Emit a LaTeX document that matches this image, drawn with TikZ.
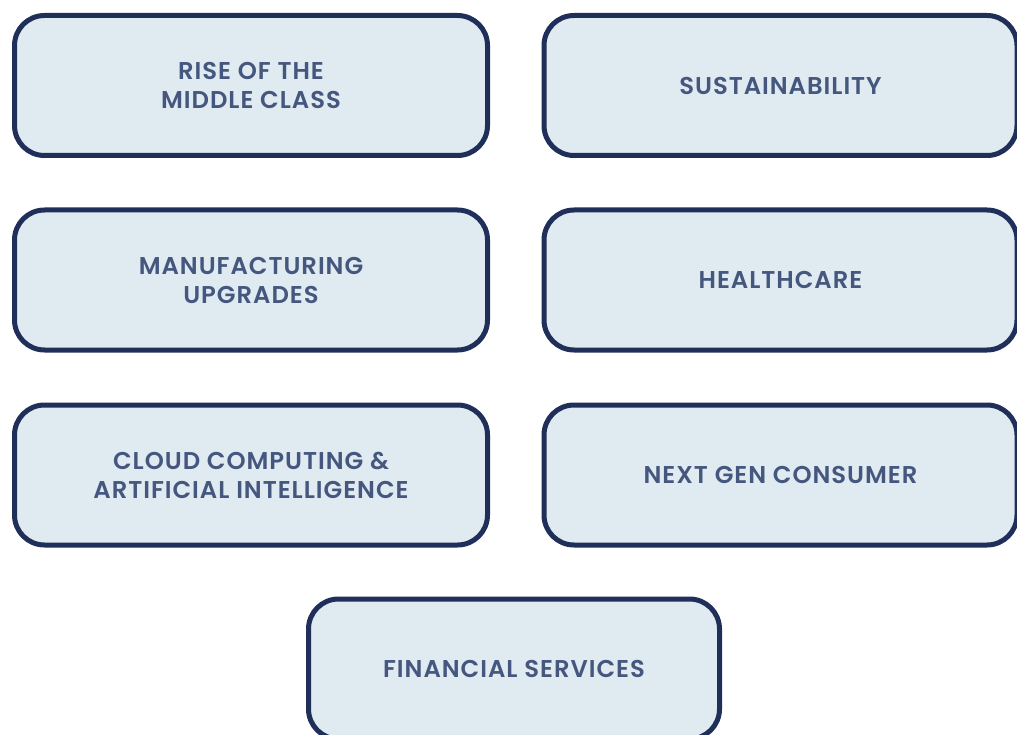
\documentclass[tikz,border=0pt]{standalone}
\usepackage{fontspec}
\usepackage{xcolor}
\newfontfamily\boxfont{Poppins}[UprightFont={* SemiBold}, LetterSpace=4]
\definecolor{boxline}{HTML}{1F2F5A}
\definecolor{boxfill}{HTML}{DFEAF1}
\definecolor{boxtext}{HTML}{46577F}
\tikzset{
  trend/.style={draw=boxline, fill=boxfill, line width=5pt, rounded corners=30pt,
    minimum width=473pt, minimum height=140pt, align=center, text=boxtext,
    font=\boxfont\fontsize{24.3}{29}\selectfont}
}

\begin{document}
\begin{tikzpicture}[x=1pt, y=-1pt]
\useasboundingbox (0,0) rectangle (1017,735);
\clip (0,0) rectangle (1017,735);

\node[trend] (middle) at (251, 85.5) {RISE OF THE\\MIDDLE CLASS};
\node[trend] (sustain) at (780.5, 85.5) {SUSTAINABILITY};
\node[trend] (manuf) at (251, 280) {MANUFACTURING\\UPGRADES};
\node[trend] (health) at (780.5, 280) {HEALTHCARE};
\node[trend] (cloud) at (251, 475) {CLOUD COMPUTING \&\\ARTIFICIAL INTELLIGENCE};
\node[trend] (consumer) at (780.5, 475) {NEXT GEN CONSUMER};
\node[trend, minimum width=411pt] (finance) at (514, 669) {FINANCIAL SERVICES};
\end{tikzpicture}
\end{document}
